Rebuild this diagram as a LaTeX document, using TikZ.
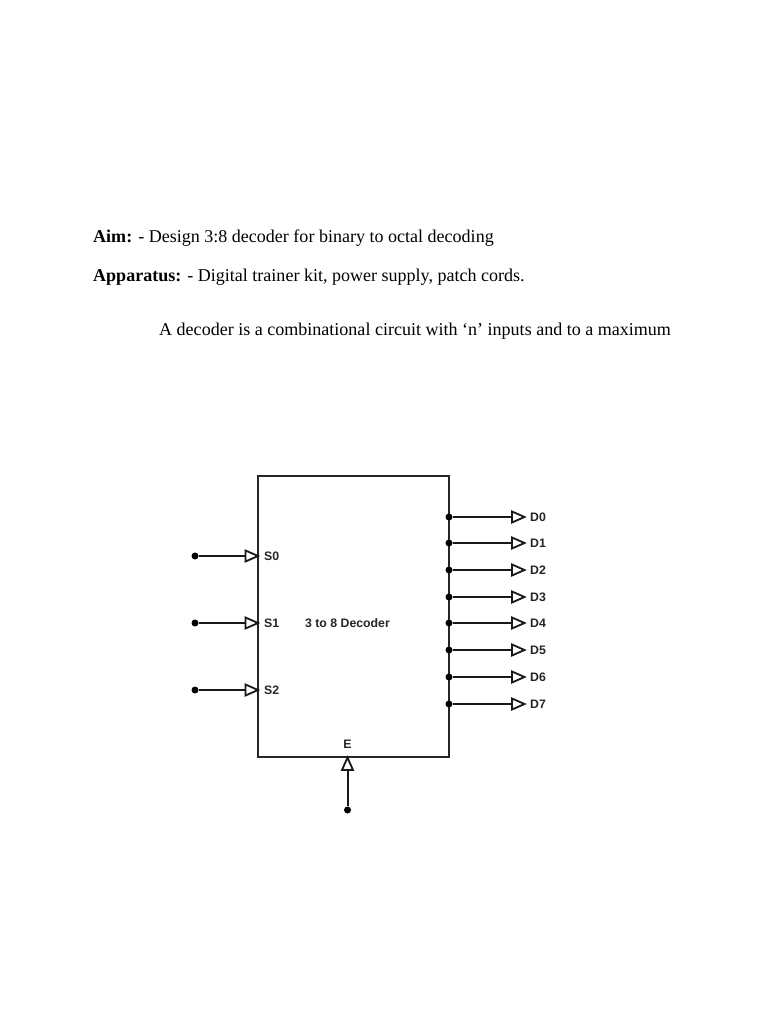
\documentclass[tikz,border=0pt]{standalone}
\usepackage{fontspec}
\setmainfont{Liberation Serif}
\newfontfamily\lab{Liberation Sans}
\begin{document}
\begin{tikzpicture}[x=1pt,y=-1pt,
  wire/.style={line width=2pt,black!90},
  tri/.style={draw=black!90,line width=1.8pt,fill=white,line join=miter},
  dotn/.style={circle,fill=black,inner sep=0pt,minimum size=7pt},
  lbl/.style={font=\lab\bfseries\fontsize{12.3}{14}\selectfont,inner sep=0pt,text=black!85},
  body/.style={font=\fontsize{18.03}{21}\selectfont,anchor=base west,inner sep=0pt},
  blockbox/.style={draw=black!85,line width=2pt,inner sep=0pt,minimum width=191pt,minimum height=281pt}]
\useasboundingbox (0,0) rectangle (768,1024);
\fill[white] (0,0) rectangle (768,1024);
\node[body] (aim) at (93,242) {\textbf{Aim:} - Design 3:8 decoder for binary to octal decoding};
\node[body] (app) at (93,281) {\textbf{Apparatus:} - Digital trainer kit, power supply, patch cords.};
\node[body] (dec) at (159,335) {A decoder is a combinational circuit with ‘n’ inputs and to a maximum};
\node[blockbox] (box) at (353.5,616) {};
\node[lbl] (title) at (347.5,623.5) {3 to 8 Decoder};
\foreach \n/\y in {0/556,1/623,2/690}{
  \node[dotn] (s\n) at (195,\y) {};
  \coordinate (si\n) at (245.5,\y);
  \draw[wire] (s\n) -- (si\n);
  \draw[tri] (si\n) ++(0,-5.5) -- ++(12.5,5.5) -- ++(-12.5,5.5) -- cycle;
  \node[lbl,anchor=west] (sl\n) at (264,\y+0.7) {S\n};
}
\foreach \n/\y in {0/517,1/543,2/570,3/597,4/623,5/650,6/677,7/704}{
  \node[dotn] (d\n) at (449,\y) {};
  \coordinate (di\n) at (512,\y);
  \draw[wire] (d\n) -- (di\n);
  \draw[tri] (di\n) ++(0,-5.5) -- ++(12.5,5.5) -- ++(-12.5,5.5) -- cycle;
  \node[lbl,anchor=west] (dl\n) at (530,\y+0.2) {D\n};
}
\node[dotn] (en) at (347.5,810) {};
\coordinate (ei) at (347.5,770);
\draw[wire] (en) -- (ei);
\draw[tri] (ei) ++(-5.5,0) -- ++(5.5,-12.5) -- ++(5.5,12.5) -- cycle;
\node[lbl] (el) at (347.5,744) {E};
\end{tikzpicture}
\end{document}
